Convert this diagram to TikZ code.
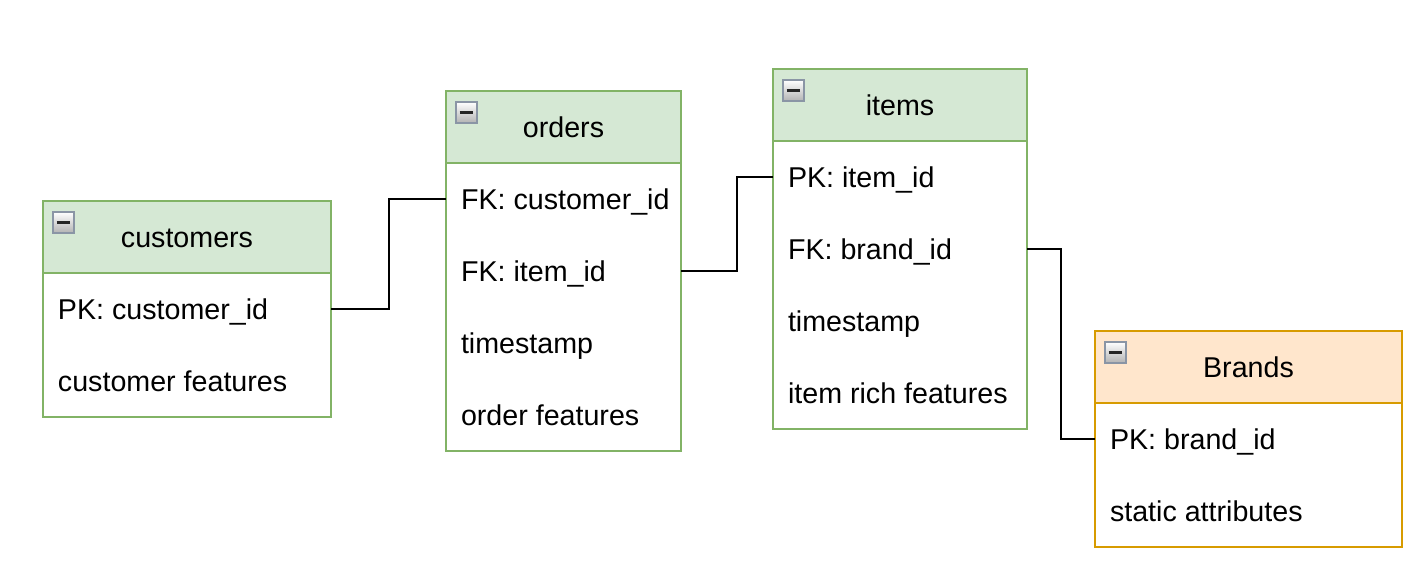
\documentclass[tikz,border=0pt]{standalone}
\usepackage{fontspec}
\setmainfont{Liberation Sans}
\usetikzlibrary{positioning}
\definecolor{gfill}{HTML}{D5E8D4}
\definecolor{gline}{HTML}{82B366}
\definecolor{ofill}{HTML}{FFE6CC}
\definecolor{oline}{HTML}{D79B00}
\definecolor{mline}{HTML}{8A95A5}

\tikzset{
  every node/.style={font=\fontsize{16.3}{19}\selectfont, outer sep=0pt},
  hdr/.style={draw=#1, line width=1.1pt, minimum height=1.44cm, anchor=north west, inner sep=0pt,
    text height=1.3em, text depth=0.06em},
  row/.style={minimum height=1.44cm, text width=#1, inner xsep=0pt, align=flush left, anchor=north, fill=white,
    text height=1.3em, text depth=0.06em, execute at begin node={\hspace*{0.3cm}}},
  frame/.style={draw=#1, line width=1.1pt},
  minus/.style={draw=mline, line width=0.6pt, top color=white, bottom color=gray!60, minimum size=0.42cm, inner sep=0pt, anchor=north west},
  link/.style={line width=1.1pt, black}
}

\begin{document}
\begin{tikzpicture}
\useasboundingbox (0,0) rectangle (28.36,11.40);

% customers
\node[hdr=gline, fill=gfill, minimum width=5.76cm] (cust) at (0.860,7.380) {customers};
\node[row=5.76cm, below=0pt of cust] (cust1) {PK: customer\_id};
\node[row=5.76cm, below=0pt of cust1] (cust2) {customer features};
\draw[frame=gline] (cust.north west) rectangle (cust2.south east);
\draw[frame=gline] (cust.south west) -- (cust.south east);
\node[minus] (custmin) at (1.060,7.160) {};
\draw[line width=1.3pt, black!85] ([xshift=2pt]custmin.west) -- ([xshift=-2pt]custmin.east);

% orders
\node[hdr=gline, fill=gfill, minimum width=4.70cm] (ord) at (8.920,9.580) {orders};
\node[row=4.70cm, below=0pt of ord] (ord1) {FK: customer\_id};
\node[row=4.70cm, below=0pt of ord1] (ord2) {FK: item\_id};
\node[row=4.70cm, below=0pt of ord2] (ord3) {timestamp};
\node[row=4.70cm, below=0pt of ord3] (ord4) {order features};
\draw[frame=gline] (ord.north west) rectangle (ord4.south east);
\draw[frame=gline] (ord.south west) -- (ord.south east);
\node[minus] (ordmin) at (9.120,9.360) {};
\draw[line width=1.3pt, black!85] ([xshift=2pt]ordmin.west) -- ([xshift=-2pt]ordmin.east);

% items
\node[hdr=gline, fill=gfill, minimum width=5.08cm] (itm) at (15.460,10.020) {items};
\node[row=5.08cm, below=0pt of itm] (itm1) {PK: item\_id};
\node[row=5.08cm, below=0pt of itm1] (itm2) {FK: brand\_id};
\node[row=5.08cm, below=0pt of itm2] (itm3) {timestamp};
\node[row=5.08cm, below=0pt of itm3] (itm4) {item rich features};
\draw[frame=gline] (itm.north west) rectangle (itm4.south east);
\draw[frame=gline] (itm.south west) -- (itm.south east);
\node[minus] (itmmin) at (15.660,9.800) {};
\draw[line width=1.3pt, black!85] ([xshift=2pt]itmmin.west) -- ([xshift=-2pt]itmmin.east);

% brands
\node[hdr=oline, fill=ofill, minimum width=6.14cm] (brd) at (21.900,4.780) {Brands};
\node[row=6.14cm, below=0pt of brd] (brd1) {PK: brand\_id};
\node[row=6.14cm, below=0pt of brd1] (brd2) {static attributes};
\draw[frame=oline] (brd.north west) rectangle (brd2.south east);
\draw[frame=oline] (brd.south west) -- (brd.south east);
\node[minus] (brdmin) at (22.100,4.560) {};
\draw[line width=1.3pt, black!85] ([xshift=2pt]brdmin.west) -- ([xshift=-2pt]brdmin.east);

% links
\draw[link] (cust1.east) -- ++(1.16,0) |- (ord1.west);
\draw[link] (ord2.east) -- ++(1.12,0) |- (itm1.west);
\draw[link] (itm2.east) -- ++(0.68,0) |- (brd1.west);
\end{tikzpicture}
\end{document}
